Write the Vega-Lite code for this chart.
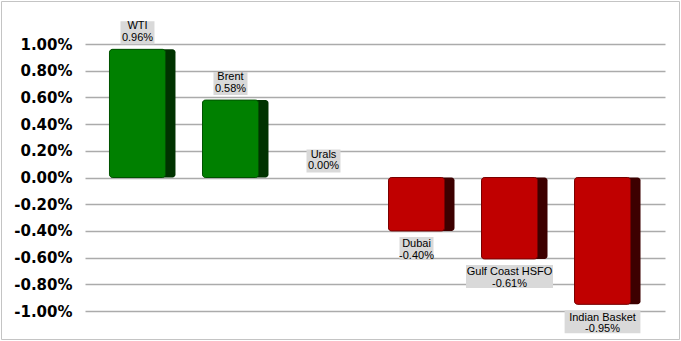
{
  "$schema": "https://vega.github.io/schema/vega-lite/v6.json",
  "width": 678,
  "height": 338,
  "autosize": {"type": "none"},
  "padding": {"left": 1, "top": 1, "right": 2, "bottom": 2},
  "background": "white",
  "config": {"view": {"stroke": "#c4c4c4", "strokeWidth": 1}},
  "data": {
    "values": [
      {"name": "WTI", "value": 0.0096},
      {"name": "Brent", "value": 0.0058},
      {"name": "Urals", "value": 0.0},
      {"name": "Dubai", "value": -0.004},
      {"name": "Gulf Coast HSFO", "value": -0.0061},
      {"name": "Indian Basket", "value": -0.0095}
    ]
  },
  "transform": [
    {"calculate": "replace(format(datum.value, '.2%'), '\u2212', '-')", "as": "vlabel"},
    {"calculate": "max(length(datum.name) * 5.6, 31) + 3", "as": "boxw"}
  ],
  "encoding": {
    "x": {
      "field": "name",
      "type": "nominal",
      "sort": null,
      "scale": {
        "domain": ["WTI", "Brent", "Urals", "Dubai", "Gulf Coast HSFO", "Indian Basket"],
        "range": [84, 664],
        "paddingInner": 0,
        "paddingOuter": 0.118
      },
      "axis": null
    }
  },
  "layer": [
    {
      "transform": [{"filter": "datum.value != 0"}],
      "mark": {"type": "bar", "width": 66, "cornerRadius": 3},
      "encoding": {
        "y": {
          "field": "value",
          "type": "quantitative",
          "scale": {"domain": [-0.01, 0.01], "nice": false, "range": [310, 43]},
          "axis": {
            "values": [-0.01, -0.008, -0.006, -0.004, -0.002, 0, 0.002, 0.004, 0.006, 0.008, 0.01],
            "tickCount": 20,
            "labelExpr": "replace(format(datum.value, '.2%'), '\u2212', '-')",
            "labelOverlap": false,
            "labelBound": false,
            "offset": -84,
            "title": null,
            "domain": false,
            "ticks": false,
            "grid": true,
            "gridColor": "#ababab",
            "gridWidth": 1.5,
            "labelFont": "DejaVu Sans",
            "labelFontWeight": "bold",
            "labelFontSize": 15,
            "labelColor": "#000000",
            "labelPadding": 13
          }
        },
        "y2": {"datum": 0},
        "color": {
          "condition": {"test": "datum.value < 0", "value": "#3d0000"},
          "value": "#003300"
        }
      }
    },
    {
      "transform": [{"filter": "datum.value != 0"}],
      "mark": {"type": "bar", "width": 56, "xOffset": -5, "cornerRadius": 3, "strokeWidth": 1},
      "encoding": {
        "y": {"field": "value", "type": "quantitative"},
        "y2": {"datum": 0},
        "color": {
          "condition": {"test": "datum.value < 0", "value": "#c00000"},
          "value": "#008000"
        },
        "stroke": {
          "condition": {"test": "datum.value < 0", "value": "#7a0000"},
          "value": "#005200"
        }
      }
    },
    {
      "transform": [{"filter": "datum.value >= 0"}],
      "mark": {"type": "bar", "color": "#d9d9d9", "xOffset": -5, "yOffset": -5, "y2Offset": -28},
      "encoding": {
        "y": {"field": "value", "type": "quantitative"},
        "y2": {"field": "value"},
        "size": {"field": "boxw", "type": "quantitative", "scale": null, "legend": null}
      }
    },
    {
      "transform": [{"filter": "datum.value < 0"}],
      "mark": {"type": "bar", "color": "#d9d9d9", "xOffset": -5, "yOffset": 6, "y2Offset": 29},
      "encoding": {
        "y": {"field": "value", "type": "quantitative"},
        "y2": {"field": "value"},
        "size": {"field": "boxw", "type": "quantitative", "scale": null, "legend": null}
      }
    },
    {
      "transform": [{"filter": "datum.value >= 0"}],
      "mark": {"type": "text", "font": "Liberation Sans", "fontSize": 11, "baseline": "alphabetic", "align": "center", "dx": -5, "dy": -20, "color": "#000000"},
      "encoding": {
        "y": {"field": "value", "type": "quantitative"},
        "text": {"field": "name"}
      }
    },
    {
      "transform": [{"filter": "datum.value >= 0"}],
      "mark": {"type": "text", "font": "Liberation Sans", "fontSize": 11, "baseline": "alphabetic", "align": "center", "dx": -5, "dy": -8.5, "color": "#000000"},
      "encoding": {
        "y": {"field": "value", "type": "quantitative"},
        "text": {"field": "vlabel"}
      }
    },
    {
      "transform": [{"filter": "datum.value < 0"}],
      "mark": {"type": "text", "font": "Liberation Sans", "fontSize": 11, "baseline": "alphabetic", "align": "center", "dx": -5, "dy": 16.5, "color": "#000000"},
      "encoding": {
        "y": {"field": "value", "type": "quantitative"},
        "text": {"field": "name"}
      }
    },
    {
      "transform": [{"filter": "datum.value < 0"}],
      "mark": {"type": "text", "font": "Liberation Sans", "fontSize": 11, "baseline": "alphabetic", "align": "center", "dx": -5, "dy": 28, "color": "#000000"},
      "encoding": {
        "y": {"field": "value", "type": "quantitative"},
        "text": {"field": "vlabel"}
      }
    }
  ]
}
